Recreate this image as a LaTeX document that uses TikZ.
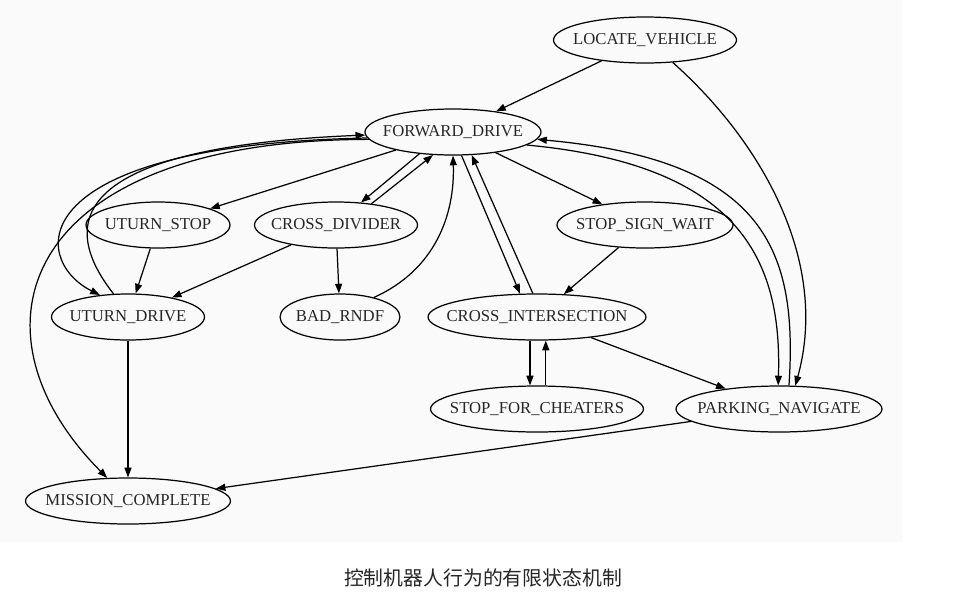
\documentclass[tikz,border=0pt]{standalone}
\usepackage{fontspec}
\setmainfont{Liberation Serif}
\newfontfamily\cjk{Noto Sans CJK SC}
\usetikzlibrary{shapes.geometric, arrows.meta}
\tikzset{
  state/.style = {ellipse, draw, line width=0.7pt, minimum height=0.92cm, inner sep=0pt, text=black!85,
    font=\fontsize{9.5}{11}\selectfont,
    execute at begin node={\hbox to 0pt\bgroup\hss}, execute at end node={\hss\egroup}},
  arrow/.style = {-{Triangle[length=5.5pt, width=4pt]}, line width=0.7pt}
}

\begin{document}
\begin{tikzpicture}[x=0.02cm, y=-0.02cm]
\useasboundingbox (0,0) rectangle (978,596);
\fill[black!2] (0,0) rectangle (902,542);

\node[state, minimum width=3.66cm] (lv) at (645,40) {LOCATE\_VEHICLE};
\node[state, minimum width=3.52cm] (fwd) at (453,132) {FORWARD\_DRIVE};
\node[state, minimum width=2.88cm] (us) at (158,225) {UTURN\_STOP};
\node[state, minimum width=3.26cm] (cd) at (336,225) {CROSS\_DIVIDER};
\node[state, minimum width=3.52cm] (ssw) at (645,225) {STOP\_SIGN\_WAIT};
\node[state, minimum width=3.06cm] (ud) at (128,317) {UTURN\_DRIVE};
\node[state, minimum width=2.40cm] (br) at (340,317) {BAD\_RNDF};
\node[state, minimum width=4.36cm] (ci) at (537,317) {CROSS\_INTERSECTION};
\node[state, minimum width=4.26cm] (sfc) at (537,409) {STOP\_FOR\_CHEATERS};
\node[state, minimum width=4.12cm] (pn) at (779,409) {PARKING\_NAVIGATE};
\node[state, minimum width=4.10cm] (mc) at (128,501) {MISSION\_COMPLETE};

\node[font=\fontsize{11.3}{13}\selectfont, text=black!85] (caption) at (483,578) {\cjk 控制机器人行为的有限状态机制};

% top
\draw[arrow] (lv) -- (fwd);
\draw[arrow] (lv.-39) .. controls (760,140) and (830,260) .. (pn.55);
\draw[arrow] (fwd.-10) .. controls (740,165) and (782,260) .. (pn.92);
\draw[arrow] (pn.67) .. controls (798,250) and (765,160) .. (fwd.-5);

% left side
\draw[arrow] (fwd) -- (us);
\draw[arrow] (fwd.-147) -- (cd.42);
\draw[arrow] (cd.31) -- (fwd.-131);
\draw[arrow] (fwd.184) .. controls (20,145) and (30,260) .. (ud.142);
\draw[arrow] (ud.122) .. controls (40,200) and (120,145) .. (fwd.182);
\draw[arrow] (fwd.185) .. controls (20,140) and (-40,330) .. (mc.132);
\draw[arrow] (us) -- (ud);
\draw[arrow] (cd) -- (ud);
\draw[arrow] (cd) -- (br);
\draw[arrow] (br.30) .. controls (435,270) and (455,215) .. (fwd.-90);
\draw[arrow] (ud) -- (mc);

% right side
\draw[arrow] (fwd) -- (ssw);
\draw[arrow] (ssw) -- (ci);
\draw[arrow] (fwd.-70) -- (ci.126);
\draw[arrow] (ci.100) -- (fwd.-51);
\draw[arrow] ([xshift=-4pt]ci.south) -- ([xshift=-4pt]sfc.north);
\draw[arrow] ([xshift=5pt]sfc.north) -- ([xshift=5pt]ci.south);
\draw[arrow] (ci) -- (pn);
\draw[arrow] (pn) -- (mc);
\end{tikzpicture}
\end{document}
